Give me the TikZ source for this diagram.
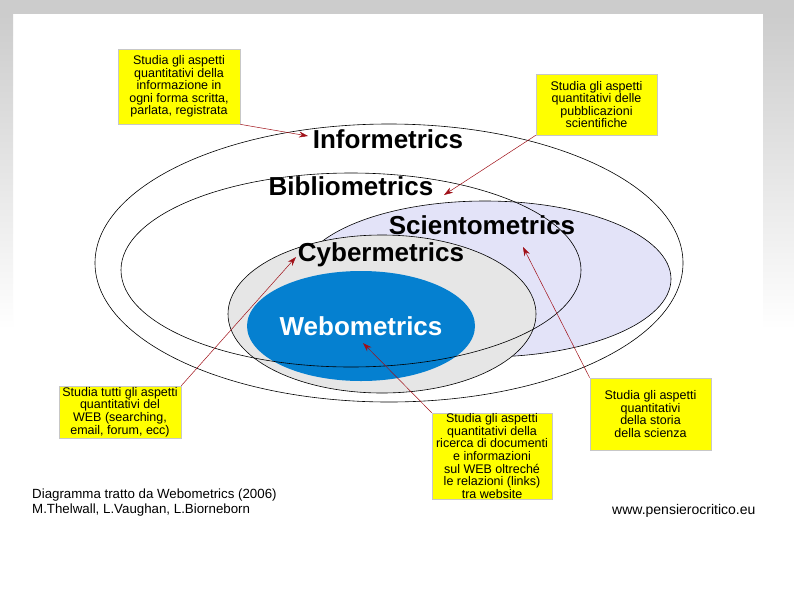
\documentclass[tikz,border=0pt]{standalone}
\usepackage{fontspec}
\setmainfont{Liberation Sans}
\usetikzlibrary{arrows.meta}
\definecolor{boxyellow}{HTML}{FFFF00}
\definecolor{lav}{HTML}{E3E3F8}
\definecolor{cyb}{HTML}{E6E6E6}
\definecolor{web}{HTML}{0580D0}
\definecolor{arr}{HTML}{A01018}
\definecolor{bggray}{HTML}{CCCCCC}
\begin{document}
\begin{tikzpicture}[x=1pt,y=-1pt,
  note/.style={fill=boxyellow, draw=black!22, line width=0.7pt, align=center, inner sep=0pt,
    font=\fontsize{12.5}{12.6}\selectfont},
  big/.style={font=\fontsize{26}{28}\selectfont\bfseries, inner sep=0pt},
  ell/.style={draw=black, line width=0.6pt},
  arrowline/.style={draw=arr, line width=0.5pt, -{Stealth[length=9pt,width=6pt]}},
  small/.style={font=\fontsize{13.3}{14.5}\selectfont, inner sep=0pt, align=left}]
\useasboundingbox (0,0) rectangle (794,595);
% background
\fill[white] (0,0) rectangle (794,595);
\fill[bggray] (0,0) rectangle (794,14);
\shade[top color=bggray, bottom color=white] (0,14) rectangle (13,330);
\shade[top color=bggray, bottom color=white] (763,14) rectangle (794,330);
% ellipses
\draw[ell] (389,263) ellipse [x radius=294pt, y radius=139pt];
\draw[ell, fill=lav] (485,279) ellipse [x radius=186pt, y radius=78pt];
\draw[ell, fill=cyb] (382,314) ellipse [x radius=154pt, y radius=79pt];
\fill[web] (361,326) ellipse [x radius=114pt, y radius=55pt];
\draw[ell] (351,270) ellipse [x radius=230pt, y radius=97pt];
% labels
\node[big] (inf) at (388,139) {Informetrics};
\node[big] (bib) at (351,186) {Bibliometrics};
\node[big] (sci) at (482,225) {Scientometrics};
\node[big] (cyb) at (381,255) {Cybermetrics};
\node[big, text=white] (webl) at (361,326) {Webometrics};
% notes
\node[note, minimum width=122pt, minimum height=75pt] (b1) at (179,86.5)
  {Studia gli aspetti\\quantitativi della\\informazione in\\ogni forma scritta,\\parlata, registrata};
\node[note, minimum width=121pt, minimum height=61pt] (b2) at (596.5,104.5)
  {Studia gli aspetti\\quantitativi delle\\pubblicazioni\\scientifiche};
\node[note, minimum width=122pt, minimum height=52pt] (b3) at (120,412)
  {Studia tutti gli aspetti\\quantitativi del\\WEB (searching,\\email, forum, ecc)};
\node[note, minimum width=120pt, minimum height=86pt] (b4) at (492,456)
  {Studia gli aspetti\\quantitativi della\\ricerca di documenti\\e informazioni\\sul WEB oltreché\\le relazioni (links)\\tra website};
\node[note, minimum width=121pt, minimum height=72pt] (b5) at (650.5,414)
  {Studia gli aspetti\\quantitativi\\della storia\\della scienza};
% arrow tips
\coordinate (t1) at (308,136);
\coordinate (t2) at (444,195);
\coordinate (t3) at (296,257);
\coordinate (t4) at (363,343);
\coordinate (t5) at (523,247);
\draw[arrowline] (b1.south east) -- (t1);
\draw[arrowline] (b2.south west) -- (t2);
\draw[arrowline] (b3.north east) -- (t3);
\draw[arrowline] (b4.north west) -- (t4);
\draw[arrowline] (b5.north west) -- (t5);
% footer
\node[small, anchor=north west] (src) at (32,489)
  {Diagramma tratto da Webometrics (2006)\\M.Thelwall, L.Vaughan, L.Biorneborn};
\node[small, font=\fontsize{14}{15}\selectfont, anchor=west] (url) at (612,511) {www.pensierocritico.eu};
\end{tikzpicture}
\end{document}
